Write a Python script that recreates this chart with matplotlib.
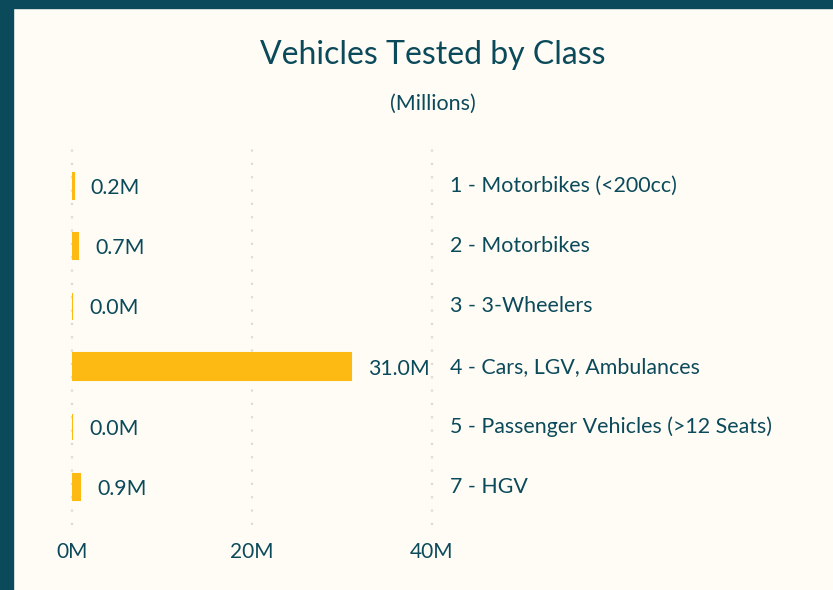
import matplotlib
matplotlib.use("Agg")
import matplotlib.pyplot as plt
from matplotlib.patches import Rectangle

# data (millions of vehicles tested)
classes = [
    "1 - Motorbikes (<200cc)",
    "2 - Motorbikes",
    "3 - 3-Wheelers",
    "4 - Cars, LGV, Ambulances",
    "5 - Passenger Vehicles (>12 Seats)",
    "7 - HGV",
]
tested_m = [0.2, 0.7, 0.03, 31.0, 0.04, 0.9]
x_ticks = [0, 20, 40]
x_tick_labels = ["0M", "20M", "40M"]

TEAL = "#0B4A5A"
AMBER = "#FDBA12"
BG = "#FFFCF5"
GRID = "#DCDCDC"

plt.rcParams["font.family"] = ["Lato", "DejaVu Sans"]

W, H = 833, 590
fig = plt.figure(figsize=(W / 100, H / 100), dpi=100)
fig.patch.set_facecolor(BG)

# frame: teal band on the left and top
fig.patches.append(Rectangle((0, 0), 13 / W, 1, transform=fig.transFigure, color=TEAL, zorder=0))
fig.patches.append(Rectangle((0, 1 - 8 / H), 1, 8 / H, transform=fig.transFigure, color=TEAL, zorder=0))

fig.text(433 / W, 1 - 55 / H, "Vehicles Tested by Class", ha="center", va="center",
         fontsize=23, color=TEAL)
fig.text(433 / W, 1 - 104 / H, "(Millions)", ha="center", va="center",
         fontsize=15.5, color=TEAL)

left, right, top, bottom = 72, 432, 145, 525
ax = fig.add_axes([left / W, 1 - bottom / H, (right - left) / W, (bottom - top) / H])
ax.set_facecolor(BG)

ypos = list(range(len(classes)))
# thin edge keeps the near-zero bars visible as slivers, like the original
ax.barh(ypos, tested_m, height=0.44, color=AMBER, edgecolor=AMBER, linewidth=1.5, zorder=2)

ax.set_xlim(0, 40)
ax.set_ylim(5.63, -0.68)
ax.set_xticks(x_ticks)
ax.set_xticklabels(x_tick_labels, fontsize=15, color=TEAL)
ax.tick_params(axis="x", length=0, pad=12)
ax.set_yticks([])
for s in ax.spines.values():
    s.set_visible(False)
for xv in x_ticks:
    ax.axvline(xv, color=GRID, linestyle=(0, (1, 5)), linewidth=1.6, zorder=1, clip_on=False)

for y, v, name in zip(ypos, tested_m, classes):
    ax.annotate(f"{v:.1f}M", xy=(v, y), xytext=(17, -2), textcoords="offset pixels",
                ha="left", va="center", fontsize=15.3, color=TEAL)
    ax.annotate(name, xy=(40, y), xytext=(18, 0), textcoords="offset pixels",
                ha="left", va="center", fontsize=15.4, color=TEAL, annotation_clip=False)

fig.savefig("out.png", dpi=100, facecolor=BG)
